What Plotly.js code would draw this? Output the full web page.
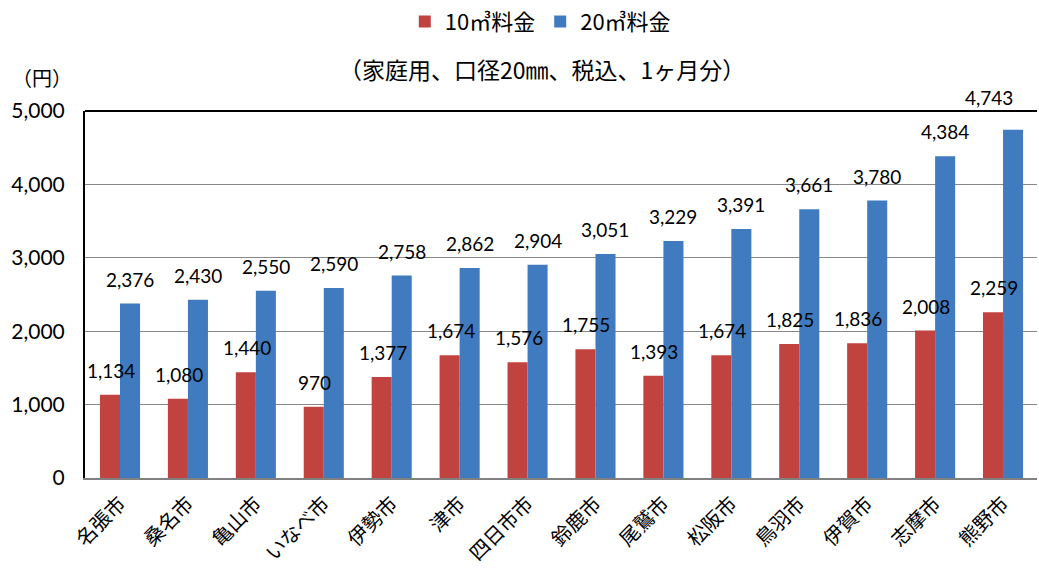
<!DOCTYPE html>
<html><head><meta charset="utf-8">
<script src="https://cdn.plot.ly/plotly-3.0.1.min.js"></script>
<style>html,body{margin:0;padding:0;background:#fff}</style>
</head><body>
<div id="chart" style="width:1039px;height:572px"></div>
<script>
const cities = ["名張市","桑名市","亀山市","いなべ市","伊勢市","津市","四日市市","鈴鹿市","尾鷲市","松阪市","鳥羽市","伊賀市","志摩市","熊野市"];
const fee10 = [1134,1080,1440,970,1377,1674,1576,1755,1393,1674,1825,1836,2008,2259];
const fee20 = [2376,2430,2550,2590,2758,2862,2904,3051,3229,3391,3661,3780,4384,4743];
const seriesNames = ["10㎥料金","20㎥料金"];
const colors = ["#C0433F","#3F7BBE"];
const yTicks = [0,1000,2000,3000,4000,5000];
const numFont = "Lato, 'Open Sans', 'Noto Sans CJK JP', sans-serif";
const jpFont = "'Noto Sans CJK JP', sans-serif";
const fmt = v => v.toLocaleString('en-US');

const traces = [fee10, fee20].map((vals, i) => ({
  type: 'bar', x: cities, y: vals, name: seriesNames[i],
  marker: {color: colors[i]}, hoverinfo: 'skip'
}));

const annotations = [];
[fee10, fee20].forEach((vals, i) => {
  vals.forEach((v, k) => {
    // the last blue label sits left/up like the original (kept inside chart edge)
    const edge = (i === 1 && k === vals.length - 1);
    annotations.push({x: cities[k], y: v, text: fmt(v), showarrow: false,
      xshift: edge ? -14 : (i === 0 ? -9 : 10), yshift: edge ? 19 : 11, yanchor: 'bottom',
      font: {family: numFont, size: 19, color: '#000'}});
  });
});
annotations.push({xref: 'paper', yref: 'paper', x: 0.48, y: 1.0, yshift: 42, xanchor: 'center', yanchor: 'middle',
  text: '（家庭用、口径20㎜、税込、1ヶ月分）', showarrow: false, font: {family: jpFont, size: 23, color: '#000'}});
annotations.push({xref: 'paper', yref: 'paper', x: 0, xshift: -43, y: 1.0, yshift: 34, xanchor: 'center', yanchor: 'middle',
  text: '（円）', showarrow: false, font: {family: jpFont, size: 20, color: '#000'}});

const layout = {
  width: 1039, height: 572,
  margin: {l: 85, r: 2, t: 111, b: 94},
  paper_bgcolor: '#fff', plot_bgcolor: '#fff',
  barmode: 'group', bargap: 0.41, bargroupgap: 0,
  showlegend: true,
  legend: {orientation: 'h', xref: 'container', yref: 'container', x: 0.52, xanchor: 'center', y: 0.962, yanchor: 'middle',
    bgcolor: 'rgba(0,0,0,0)', font: {family: jpFont, size: 22, color: '#000'}, itemwidth: 30},
  xaxis: {type: 'category', tickangle: -45, showline: true, linecolor: '#808080', linewidth: 2,
    ticks: '', ticklabelstandoff: 4, tickfont: {family: jpFont, size: 20, color: '#000'}, showgrid: false},
  yaxis: {range: [0, 5000], tickvals: yTicks, ticktext: yTicks.map(fmt), showline: true, linecolor: '#000', linewidth: 2,
    showgrid: true, gridcolor: '#888', gridwidth: 1, zeroline: false, ticks: '', ticklabelstandoff: 14,
    tickfont: {family: numFont, size: 21, color: '#000'}},
  shapes: [{type: 'line', xref: 'paper', yref: 'paper', x0: 0, x1: 1, y0: 1, y1: 1, line: {color: '#000', width: 2}}],
  annotations: annotations
};
Plotly.newPlot('chart', traces, layout, {displayModeBar: false, staticPlot: true});
</script>
</body></html>
